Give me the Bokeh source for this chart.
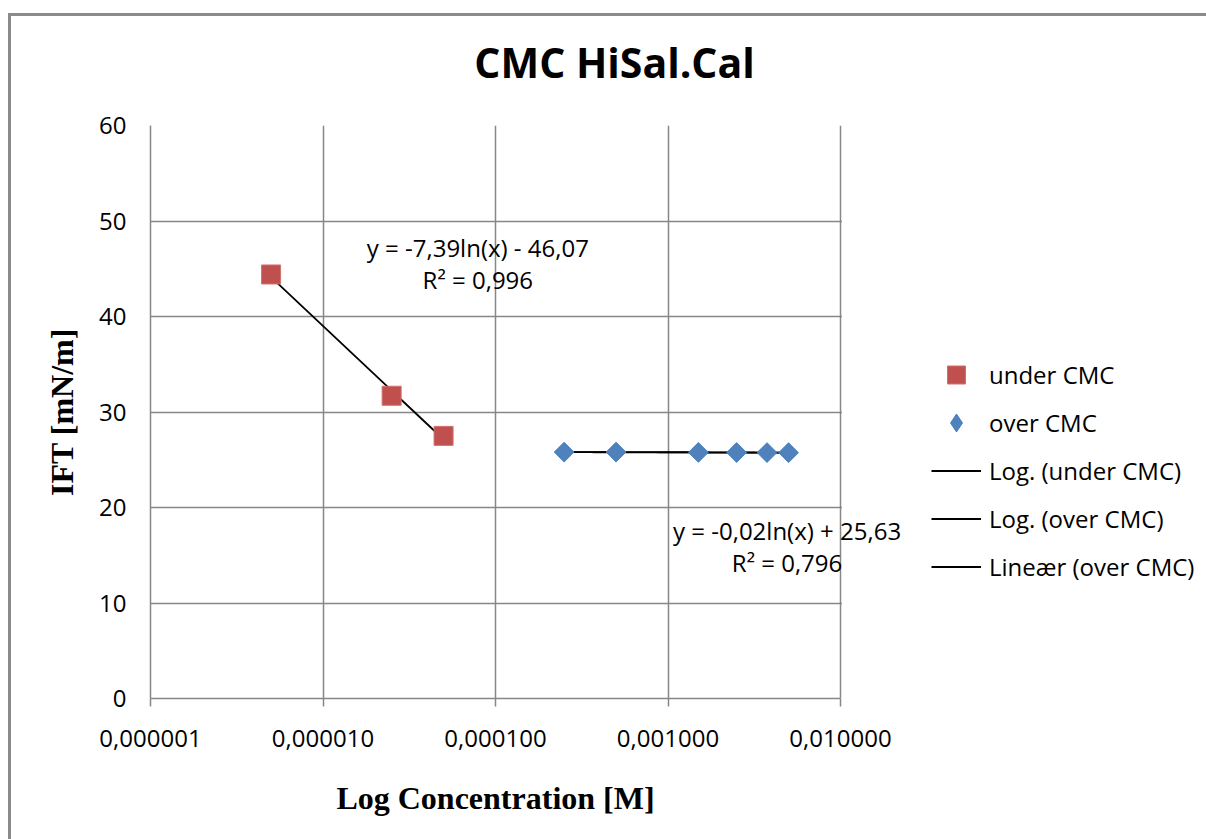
import numpy as np
from bokeh.plotting import figure
from bokeh.models import (Range1d, FixedTicker, CustomJSTickFormatter, Label,
                          Legend, LegendItem, BoxAnnotation)
from bokeh.embed import file_html
from bokeh.resources import INLINE

# Measured interfacial tension below and above the CMC
under_conc = [5e-6, 2.5e-5, 5e-5]
under_ift = [44.4, 31.7, 27.5]
over_conc = [2.5e-4, 5e-4, 1.5e-3, 2.5e-3, 3.75e-3, 5e-3]
over_ift = [25.80, 25.80, 25.77, 25.76, 25.75, 25.74]

# Logarithmic trendlines: y = a*ln(x) + b
log_under = (-7.39, -46.07)
log_over = (-0.02, 25.63)
r2_under = "0,996"
r2_over = "0,796"

x_ticks = [1e-6, 1e-5, 1e-4, 1e-3, 1e-2]
y_ticks = [0, 10, 20, 30, 40, 50, 60]

RED = "#C0504D"
BLUE = "#4F81BD"
GRID = "#878787"
EDGE = "#8A8A8A"
SANS = "Open Sans"
SERIF = "Liberation Serif"

# The plotting frame also holds the legend strip on the right, so the
# axis spans 4 decades over 690 px and the frame continues to the page edge.
W, H = 1206, 839
LEFT, RIGHT_AREA, TOP, BOTTOM = 150, 840, 125, 698
x_lo, x_hi = x_ticks[0], x_ticks[-1]
decades = np.log10(x_hi / x_lo)
x_end = x_lo * 10 ** (decades * (W - LEFT) / (RIGHT_AREA - LEFT))

p = figure(width=W, height=H, x_axis_type="log",
           x_range=Range1d(x_lo, x_end), y_range=Range1d(0, 60),
           output_backend="svg", toolbar_location=None,
           min_border_left=LEFT, min_border_right=0,
           min_border_top=TOP, min_border_bottom=H - BOTTOM,
           background_fill_color="white", border_fill_color=None)

# chart-area edge (top and left sides fall inside the page)
p.styles = {
    "background-color": "white",
    "background-image": f"linear-gradient({EDGE},{EDGE}), linear-gradient({EDGE},{EDGE})",
    "background-position": "8px 13px, 8px 13px",
    "background-size": "3px 100%, 100% 3px",
    "background-repeat": "no-repeat",
}

p.outline_line_color = None

# axes
for ax in (p.xaxis[0], p.yaxis[0]):
    ax.axis_line_color = GRID
    ax.axis_line_width = 1.5
    ax.major_tick_line_color = GRID
    ax.major_tick_line_width = 1.5
    ax.major_tick_in = 0
    ax.minor_tick_line_color = None
    ax.major_label_text_font = SANS
    ax.major_label_text_font_size = "24px"
    ax.major_label_text_color = "black"
    ax.axis_label_text_font = SERIF
    ax.axis_label_text_font_style = "bold"
    ax.axis_label_text_font_size = "32px"
    ax.axis_label_text_color = "black"

p.xaxis.bounds = (x_lo, x_hi)
p.xaxis.ticker = FixedTicker(ticks=x_ticks)
p.xaxis.formatter = CustomJSTickFormatter(code="return tick.toFixed(6).replace('.', ',');")
p.xaxis.major_tick_out = 8
p.xaxis.major_label_standoff = 23

p.yaxis.ticker = FixedTicker(ticks=y_ticks)
p.yaxis.major_tick_out = 0
p.yaxis.major_label_standoff = 24
p.yaxis.axis_label = "IFT [mN/m]"
p.yaxis.axis_label_standoff = 16

p.xgrid.ticker = FixedTicker(ticks=x_ticks)
p.ygrid.ticker = FixedTicker(ticks=y_ticks)
for g in (p.xgrid[0], p.ygrid[0]):
    g.grid_line_color = GRID
    g.grid_line_width = 1.5

# trendlines
xu = np.geomspace(min(under_conc), max(under_conc), 60)
tl_under = p.line(xu, log_under[0] * np.log(xu) + log_under[1],
                  line_color="black", line_width=1.8)
xo = np.geomspace(min(over_conc), max(over_conc), 60)
tl_over_log = p.line(xo, log_over[0] * np.log(xo) + log_over[1],
                     line_color="black", line_width=1.8)
lin = np.polyfit(over_conc, over_ift, 1)
tl_over_lin = p.line(xo, np.polyval(lin, xo), line_color="black", line_width=1.8)

# data points
r_under = p.scatter(under_conc, under_ift, marker="square", size=19,
                    fill_color=RED, line_color="#D0706D", line_width=1)
# diamond key for the legend (drawn beneath the rotated squares)
r_over_key = p.scatter(over_conc, over_ift, marker="diamond", size=18,
                       fill_color=BLUE, line_color=BLUE)
r_over = p.scatter(over_conc, over_ift, marker="square", angle=np.pi / 4, size=14,
                   fill_color=BLUE, line_color=BLUE, line_width=1)

# blank out the legend strip to the right of the plot area
p.add_layout(BoxAnnotation(left=x_hi * 1.02, fill_color="white", fill_alpha=1,
                           line_color=None))

# trendline equations
eq_style = dict(text_font=SANS, text_font_size="24px", text_color="black",
                text_align="center", text_baseline="middle")
p.add_layout(Label(x=7.9e-5, y=47.2, text="y = -7,39ln(x) - 46,07", **eq_style))
p.add_layout(Label(x=7.9e-5, y=43.85, text="R² = " + r2_under, **eq_style))
p.add_layout(Label(x=4.9e-3, y=17.6, text="y = -0,02ln(x) + 25,63", **eq_style))
p.add_layout(Label(x=4.9e-3, y=14.25, text="R² = " + r2_over, **eq_style))

# title
p.add_layout(Label(x=4.9e-4, y=66.6, text="CMC HiSal.Cal", text_font=SANS,
                   text_font_style="bold", text_font_size="41px",
                   text_color="black", text_align="center",
                   text_baseline="middle"), "above")

# x-axis title, centred under the plot area
p.add_layout(Label(x=1.0e-4, y=-10.45, text="Log Concentration [M]", text_font=SERIF,
                   text_font_style="bold", text_font_size="32px",
                   text_color="black", text_align="center",
                   text_baseline="middle"), "above")

legend = Legend(items=[
    LegendItem(label="under CMC", renderers=[r_under]),
    LegendItem(label="over CMC", renderers=[r_over_key]),
    LegendItem(label="Log. (under CMC)", renderers=[tl_under]),
    LegendItem(label="Log. (over CMC)", renderers=[tl_over_log]),
    LegendItem(label="Lineær (over CMC)", renderers=[tl_over_lin]),
], location=(781, 109.5))
legend.label_text_font = SANS
legend.label_text_font_size = "24px"
legend.label_text_color = "black"
legend.glyph_width = 50
legend.glyph_height = 45
legend.label_height = 45
legend.spacing = 3
legend.label_standoff = 8
legend.padding = 10
legend.border_line_color = None
legend.background_fill_alpha = 0
p.add_layout(legend)

open("out.html", "w").write(file_html(p, INLINE))
